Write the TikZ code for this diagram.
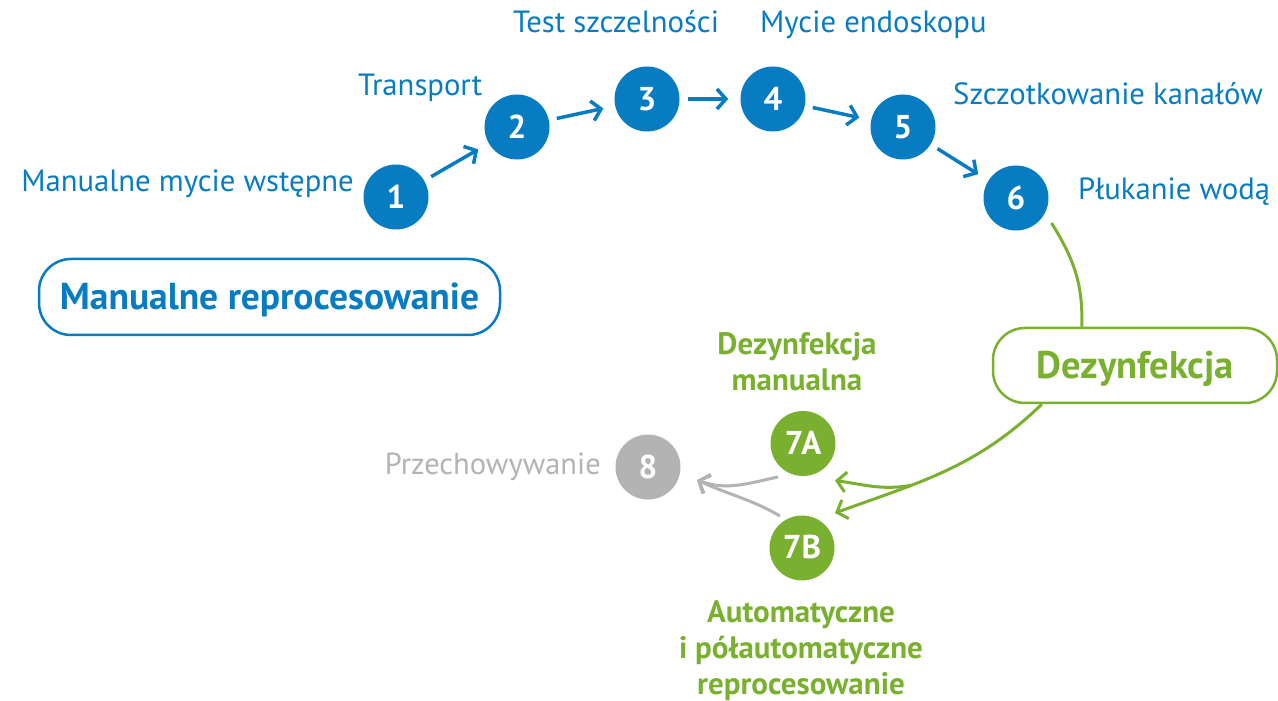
\documentclass[tikz,border=0pt]{standalone}
\usepackage{fontspec}
\setmainfont{PT Sans}
\usetikzlibrary{arrows.meta,calc,positioning}
\definecolor{stepblue}{HTML}{087CC2}
\definecolor{disgreen}{HTML}{7AB030}
\definecolor{storegray}{HTML}{B3B3B3}

\begin{document}
\begin{tikzpicture}[x=1pt,y=1pt,
  stepdot/.style={circle, fill=#1, minimum size=65pt, inner sep=0pt, text=white,
    font=\fontsize{33}{33}\selectfont\bfseries, text height=23pt, text depth=0pt},
  lbl/.style={inner sep=0pt, text=#1, font=\fontsize{30.7}{36}\selectfont},
  glbl/.style={inner sep=0pt, text=disgreen, align=center,
    font=\fontsize{31}{36}\selectfont\bfseries},
  phase/.style={draw=#1, text=#1, line width=2.5pt, rounded corners=32pt, inner sep=0pt,
    text height=25pt, text depth=0pt, font=\fontsize{37.5}{37.5}\selectfont\bfseries},
  flow/.style={-{Straight Barb[length=9pt,width=20pt]}, line width=3.5pt,
    shorten <=8pt, shorten >=12pt, draw=stepblue},
  gflow/.style={-{Straight Barb[length=9pt,width=20pt]}, line width=3pt, draw=disgreen},
  sflow/.style={-{Straight Barb[length=9pt,width=20pt]}, line width=3pt, draw=storegray}]
  \useasboundingbox (0,0) rectangle (1278,701);

  % manual steps
  \node (n1) [stepdot=stepblue] at (396,504) {1};
  \node (n2) [stepdot=stepblue] at (517,574) {2};
  \node (n3) [stepdot=stepblue] at (647,602) {3};
  \node (n4) [stepdot=stepblue] at (773,602) {4};
  \node (n5) [stepdot=stepblue] at (903,574) {5};
  \node (n6) [stepdot=stepblue] at (1016,503) {6};
  \node (t1) [lbl=stepblue, anchor=base east] at (354,509) {Manualne mycie wstępne};
  \node (t2) [lbl=stepblue, anchor=base west] at (358,605) {Transport};
  \node (t3) [lbl=stepblue, anchor=base west] at (513,668) {Test szczelności};
  \node (t4) [lbl=stepblue, anchor=base west] at (760,668) {Mycie endoskopu};
  \node (t5) [lbl=stepblue, anchor=base west] at (953,596) {Szczotkowanie kanałów};
  \node (t6) [lbl=stepblue, anchor=base west] at (1078,501) {Płukanie wodą};
  \draw[flow] (n1) -- (n2);
  \draw[flow] (n2) -- (n3);
  \draw[flow] (n3) -- (n4);
  \draw[flow] (n4) -- (n5);
  \draw[flow] (n5) -- (n6);

  \node (manual) [phase=stepblue, minimum width=461pt, minimum height=76pt] at (269.5,404)
    {Manualne reprocesowanie};
  \node (dez) [phase=disgreen, minimum width=284pt, minimum height=75pt,
    text height=26pt, font=\fontsize{38.5}{38.5}\selectfont\bfseries] at (1135,335.5) {Dezynfekcja};

  % disinfection and storage
  \node (n7a) [stepdot=disgreen, text height=22pt] at (803,257.5) {7A};
  \node (n7b) [stepdot=disgreen, text height=22pt] at (802,153) {7B};
  \node (n8) [stepdot=storegray] at (648,234) {8};
  \node (g1) [glbl, anchor=base] at (797,310) {Dezynfekcja\\manualna};
  \node (g2) [glbl, anchor=base] at (801,6) {Automatyczne\\i półautomatyczne\\reprocesowanie};
  \node (t8) [lbl=storegray, font=\fontsize{30.5}{36}\selectfont, anchor=base east] at (601,226)
    {Przechowywanie};

  \draw[disgreen, line width=3pt] ([shift={(35.5,-25)}]n6.center)
    to[out=-58,in=88] ([xshift=90pt]dez.north west);
  \draw[gflow] ([xshift=50pt]dez.south west)
    to[out=-136,in=20] coordinate[pos=0.67] (split) ([shift={(33,35)}]n7b.center);
  \draw[gflow] (split) to[out=190,in=-8] ([shift={(32,-37)}]n7a.center);
  \draw[sflow] ([shift={(-25,-33.5)}]n7a.center) to[out=192,in=-20] ([shift={(49,-13)}]n8.center);
  \draw[sflow] ([shift={(-22,32)}]n7b.center) to[out=150,in=-25] ([shift={(49,-13)}]n8.center);
\end{tikzpicture}
\end{document}
